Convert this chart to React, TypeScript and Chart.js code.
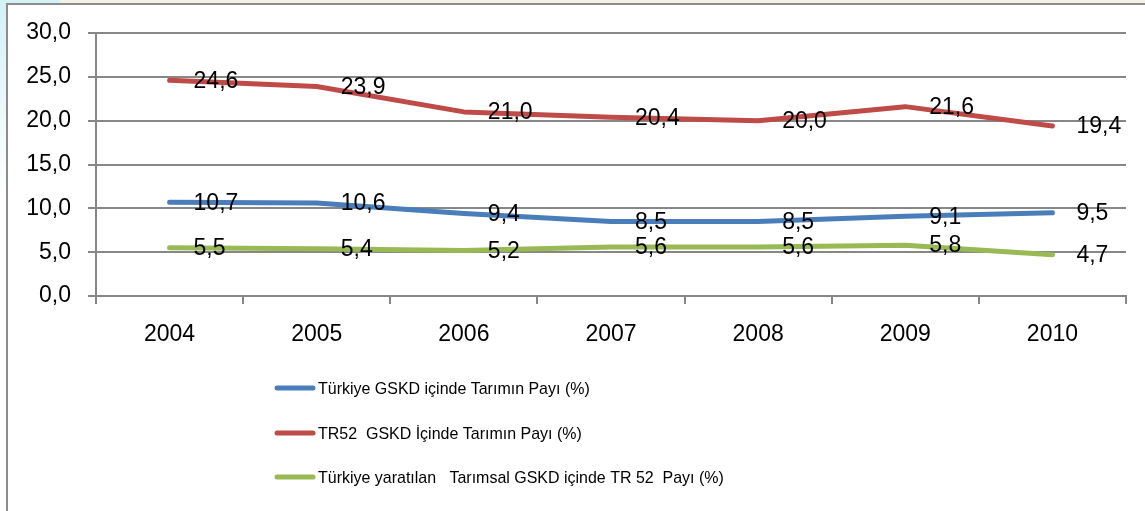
import React, { useEffect, useRef } from "react";
import { Chart, registerables } from "chart.js";

Chart.register(...registerables);

const years = ["2004", "2005", "2006", "2007", "2008", "2009", "2010"];
const turkiyeShare = [10.7, 10.6, 9.4, 8.5, 8.5, 9.1, 9.5];
const tr52Share = [24.6, 23.9, 21.0, 20.4, 20.0, 21.6, 19.4];
const tr52InTurkiye = [5.5, 5.4, 5.2, 5.6, 5.6, 5.8, 4.7];
const seriesLabels = [
  "Türkiye GSKD içinde Tarımın Payı (%)",
  "TR52  GSKD İçinde Tarımın Payı (%)",
  "Türkiye yaratılan   Tarımsal GSKD içinde TR 52  Payı (%)",
];
const seriesColors = ["#4A7EBB", "#BE4B48", "#98B954"];

const FONT = "'Liberation Sans', Arial, sans-serif";
const fmt = (v: number) => v.toFixed(1).replace(".", ",");

const backgroundPlugin = {
  id: "frameBg",
  beforeDraw(chart: any) {
    const { ctx, width, height } = chart;
    ctx.save();
    const g = ctx.createLinearGradient(0, 0, 0, 200);
    g.addColorStop(0, "#d3f1f6");
    g.addColorStop(1, "#ffffff");
    ctx.fillStyle = g;
    ctx.fillRect(0, 0, width, height);
    ctx.fillStyle = "#f4f0e4";
    ctx.fillRect(60, 0, width - 60, 4);
    ctx.fillStyle = "#ffffff";
    ctx.fillRect(7, 4, width, height);
    ctx.strokeStyle = "#8c8c8c";
    ctx.lineWidth = 2;
    ctx.strokeRect(7, 4, width + 10, height + 10);
    ctx.restore();
  },
};

const labelsPlugin = {
  id: "valueLabels",
  afterDatasetsDraw(chart: any) {
    const { ctx } = chart;
    ctx.save();
    ctx.font = `23px ${FONT}`;
    ctx.fillStyle = "#000000";
    ctx.textAlign = "left";
    ctx.textBaseline = "middle";
    chart.data.datasets.forEach((ds: any, i: number) => {
      const meta = chart.getDatasetMeta(i);
      meta.data.forEach((pt: any, j: number) => {
        ctx.fillText(fmt(ds.data[j]), pt.x + 24, pt.y + 1);
      });
    });
    ctx.restore();
  },
};

const legendPlugin = {
  id: "vertLegend",
  afterDraw(chart: any) {
    const { ctx } = chart;
    ctx.save();
    ctx.textAlign = "left";
    ctx.textBaseline = "middle";
    const ys = [388, 433, 477];
    chart.data.datasets.forEach((ds: any, i: number) => {
      const y = ys[i];
      ctx.strokeStyle = ds.borderColor;
      ctx.lineWidth = 5;
      ctx.lineCap = "round";
      ctx.beginPath();
      ctx.moveTo(277, y);
      ctx.lineTo(313, y);
      ctx.stroke();
      ctx.save();
      ctx.translate(318, y + 1);
      ctx.scale(0.94, 1);
      ctx.font = `17px ${FONT}`;
      ctx.fillStyle = "#000000";
      ctx.fillText(ds.label, 0, 0);
      ctx.restore();
    });
    ctx.restore();
  },
};

export default function App() {
  const ref = useRef<HTMLCanvasElement | null>(null);
  useEffect(() => {
    if (!ref.current) return;
    const series = [turkiyeShare, tr52Share, tr52InTurkiye];
    const chart = new Chart(ref.current, {
      type: "line",
      data: {
        labels: years,
        datasets: series.map((d, i) => ({
          label: seriesLabels[i],
          data: d,
          borderColor: seriesColors[i],
          backgroundColor: seriesColors[i],
          borderWidth: 5,
          pointRadius: 0,
          borderCapStyle: "round",
          borderJoinStyle: "round",
          tension: 0,
          fill: false,
        })),
      },
      options: {
        responsive: false,
        animation: false,
        layout: { padding: { left: 0, right: 19, top: 33, bottom: 155 } },
        plugins: {
          legend: { display: false },
          tooltip: { enabled: false },
        },
        scales: {
          x: {
            type: "category",
            offset: true,
            grid: {
              offset: true,
              drawOnChartArea: false,
              drawTicks: true,
              tickLength: 8,
              color: "#878787",
              lineWidth: 2,
            },
            border: { display: true, color: "#878787", width: 2 },
            ticks: {
              color: "#000000",
              font: { family: FONT, size: 23 },
              padding: 17,
              maxRotation: 0,
            },
            afterFit: (s: any) => {
              s.height = 60;
            },
          },
          y: {
            min: 0,
            max: 30,
            grid: {
              color: "#878787",
              lineWidth: 2,
              tickLength: 8,
              drawTicks: true,
            },
            border: { display: true, color: "#878787", width: 2 },
            ticks: {
              stepSize: 5,
              color: "#000000",
              font: { family: FONT, size: 23 },
              padding: 17,
              callback: (v: any) => fmt(Number(v)),
            },
            afterFit: (s: any) => {
              s.width = 96;
            },
          },
        },
      },
      plugins: [backgroundPlugin, labelsPlugin, legendPlugin],
    } as any);
    return () => chart.destroy();
  }, []);
  return (
    <div style={{ position: "absolute", left: 0, top: 0, width: 1145, height: 511 }}>
      <canvas ref={ref} width={1145} height={511} style={{ display: "block" }} />
    </div>
  );
}
